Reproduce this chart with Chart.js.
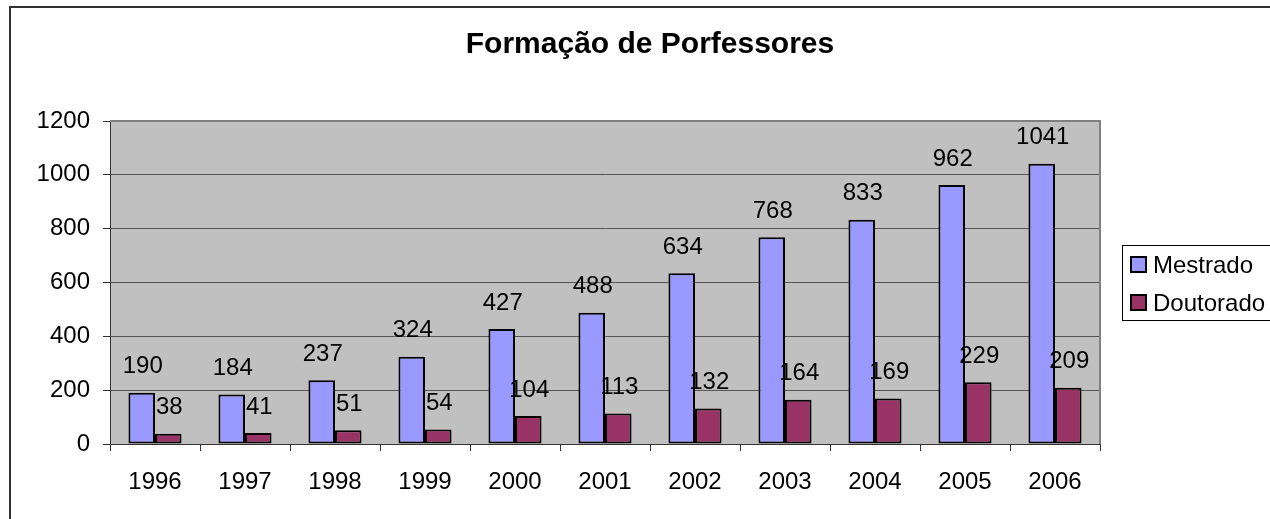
<!DOCTYPE html>
<html>
<head>
<meta charset="utf-8">
<script src="https://cdn.jsdelivr.net/npm/chart.js@4"></script>
<style>
html,body{margin:0;padding:0;background:#fff;}
canvas{display:block;}
</style>
</head>
<body>
<canvas id="c" width="1270" height="519"></canvas>
<script>
const categories = ['1996','1997','1998','1999','2000','2001','2002','2003','2004','2005','2006'];
const mestrado = [190,184,237,324,427,488,634,768,833,962,1041];
const doutorado = [38,41,51,54,104,113,132,164,169,229,209];
const seriesNames = ['Mestrado','Doutorado'];
const yTicks = [0,200,400,600,800,1000,1200];
const chartTitle = 'Formação de Porfessores';

const FONT = '"Liberation Sans", Arial, sans-serif';

const decor = {
  id: 'decor',
  beforeDraw(chart) {
    const ctx = chart.ctx, a = chart.chartArea;
    ctx.save();
    ctx.fillStyle = '#fff';
    ctx.fillRect(0,0,chart.width,chart.height);
    ctx.fillStyle = '#C0C0C0';
    ctx.fillRect(a.left, a.top, a.right - a.left, a.bottom - a.top);
    ctx.restore();
  },
  afterDraw(chart) {
    const ctx = chart.ctx, a = chart.chartArea;
    ctx.save();
    ctx.strokeStyle = '#808080';
    ctx.lineWidth = 2;
    ctx.beginPath();
    ctx.moveTo(a.left, a.top); ctx.lineTo(a.right, a.top); ctx.lineTo(a.right, a.bottom);
    ctx.stroke();
    ctx.strokeStyle = '#333';
    ctx.lineWidth = 2;
    ctx.strokeRect(10, 7, 1400, 700);
    ctx.fillStyle = '#000';
    ctx.font = 'bold 30px ' + FONT;
    ctx.textAlign = 'center';
    ctx.textBaseline = 'alphabetic';
    ctx.fillText(chartTitle, 650, 53);
    ctx.strokeStyle = '#000';
    ctx.lineWidth = 1;
    ctx.strokeRect(1122.5, 245.5, 200, 75);
    chart.data.datasets.forEach((ds, i) => {
      const cy = 265 + i * 38;
      ctx.fillStyle = ds.backgroundColor;
      ctx.fillRect(1131, cy - 8, 15, 15);
      ctx.lineWidth = 2;
      ctx.strokeStyle = '#000';
      ctx.strokeRect(1131, cy - 8, 15, 15);
      ctx.fillStyle = '#000';
      ctx.font = '24px ' + FONT;
      ctx.textAlign = 'left';
      ctx.textBaseline = 'middle';
      ctx.fillText(ds.label, 1153, cy + 1);
    });
    ctx.restore();
  },
  afterDatasetsDraw(chart) {
    const ctx = chart.ctx;
    ctx.save();
    ctx.fillStyle = '#000';
    ctx.font = '24px ' + FONT;
    ctx.textAlign = 'center';
    ctx.textBaseline = 'middle';
    chart.data.datasets.forEach((ds, i) => {
      const meta = chart.getDatasetMeta(i);
      meta.data.forEach((el, j) => {
        ctx.fillText(String(ds.data[j]), el.x + 1, el.y - 26);
      });
    });
    ctx.restore();
  }
};

new Chart(document.getElementById('c'), {
  type: 'bar',
  data: {
    labels: categories,
    datasets: [
      { label: seriesNames[0], data: mestrado, backgroundColor: '#9999FF', borderColor: '#000', borderWidth: 2, borderSkipped: false },
      { label: seriesNames[1], data: doutorado, backgroundColor: '#993366', borderColor: '#000', borderWidth: 2, borderSkipped: false }
    ]
  },
  options: {
    responsive: false,
    animation: false,
    devicePixelRatio: 1,
    layout: { padding: { left: 10, top: 121, right: 170, bottom: 0 } },
    plugins: { legend: { display: false }, title: { display: false }, tooltip: { enabled: false } },
    datasets: { bar: { categoryPercentage: 0.59, barPercentage: 1.0 } },
    scales: {
      x: {
        offset: true,
        grid: { display: true, drawOnChartArea: false, drawTicks: true, tickLength: 7, tickColor: '#333', offset: true },
        border: { display: true, color: '#333', width: 1 },
        ticks: { color: '#000', font: { family: FONT, size: 24 }, padding: 17, maxRotation: 0, autoSkip: false },
        afterFit(s) { s.height = 75; }
      },
      y: {
        min: 0, max: 1200,
        afterBuildTicks(s) { s.ticks = yTicks.map(v => ({ value: v })); },
        grid: { color: '#555', lineWidth: 1, tickLength: 7, tickColor: '#333' },
        border: { display: true, color: '#333', width: 1 },
        ticks: { color: '#000', font: { family: FONT, size: 24 }, padding: 13, callback: v => String(v) },
        afterFit(s) { s.width = 100; }
      }
    }
  },
  plugins: [decor]
});
</script>
</body>
</html>
